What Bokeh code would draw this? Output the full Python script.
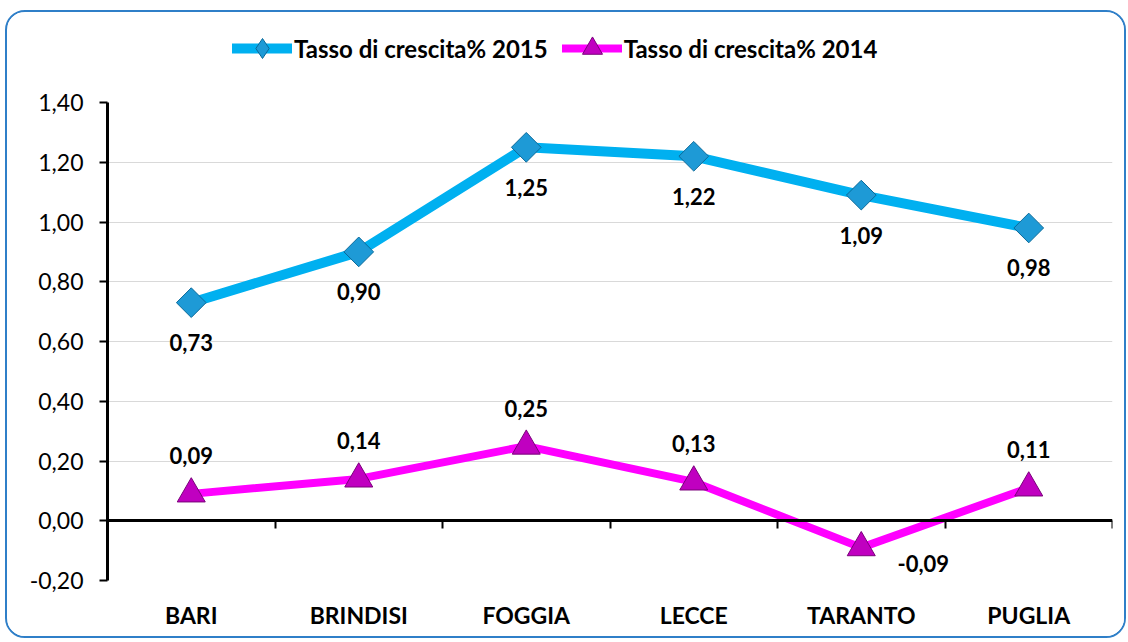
import math
from bokeh.plotting import figure
from bokeh.models import (Range1d, LinearAxis, FixedTicker, Legend, LegendItem,
                          CustomJSTickFormatter)
from bokeh.layouts import column
from bokeh.core.properties import value
from bokeh.embed import file_html
from bokeh.resources import INLINE

# ---- data ----
categories = ["BARI", "BRINDISI", "FOGGIA", "LECCE", "TARANTO", "PUGLIA"]
rate_2015 = [0.73, 0.90, 1.25, 1.22, 1.09, 0.98]
rate_2014 = [0.09, 0.14, 0.25, 0.13, -0.09, 0.11]
series_names = ["Tasso di crescita% 2015", "Tasso di crescita% 2014"]
y_ticks = [-0.2, 0.0, 0.2, 0.4, 0.6, 0.8, 1.0, 1.2, 1.4]

# ---- label styling (offsets in px) ----
off15_x = [0, 0, 0, 0, 0, 0]
off15_y = [40, 40, 40, 40, 40, 40]
off14_x = [0, 0, 0, 0, 62, 0]
off14_y = [-38, -38, -38, -38, 16, -38]

FONT = "Lato"
C15_LINE, C15_MARK, C15_EDGE = "#00B0F0", "#1E9AD6", "#0B6A9A"
C14_LINE, C14_MARK, C14_EDGE = "#FF00FF", "#C000C0", "#7A007A"
x = [i + 0.5 for i in range(len(categories))]
fmt = lambda v: f"{v:.2f}".replace(".", ",")

W = 1117


def draw_series(fig, legend_style=False):
    r = {}
    r["l15"] = fig.line(x, rate_2015, line_width=10, color=C15_LINE,
                        line_cap="round", line_join="round")
    if legend_style:
        r["s15"] = fig.scatter(x, rate_2015, marker="diamond", size=22,
                               fill_color=C15_MARK, line_color=C15_EDGE, line_width=1)
    else:
        r["s15"] = fig.scatter(x, rate_2015, marker="square", angle=math.pi / 4, size=21,
                               fill_color=C15_MARK, line_color=C15_EDGE, line_width=1)
    r["l14"] = fig.line(x, rate_2014, line_width=8, color=C14_LINE,
                        line_cap="round", line_join="round")
    r["s14"] = fig.scatter(x, rate_2014, marker="triangle", size=28,
                           fill_color=C14_MARK, line_color=C14_EDGE, line_width=1)
    return r


# ---------------- main chart ----------------
p = figure(width=W, height=554, x_range=Range1d(0, len(categories)),
           y_range=Range1d(-0.2, 1.4), x_axis_type=None,
           output_backend="svg", toolbar_location=None,
           min_border_left=100, min_border_right=12, min_border_top=20,
           min_border_bottom=56)
p.outline_line_color = None
p.background_fill_color = "white"
p.border_fill_color = "white"

p.yaxis.ticker = FixedTicker(ticks=y_ticks)
p.yaxis.formatter = CustomJSTickFormatter(code="return tick.toFixed(2).replace('.', ',');")
p.yaxis.axis_line_width = 3
p.yaxis.axis_line_color = "black"
p.yaxis.major_tick_in = 0
p.yaxis.major_tick_out = 8
p.yaxis.major_tick_line_width = 2
p.yaxis.minor_tick_line_color = None
p.yaxis.major_label_standoff = 16
p.yaxis.major_label_text_font = FONT
p.yaxis.major_label_text_font_size = "23px"
p.yaxis.major_label_text_color = "black"

p.ygrid.ticker = FixedTicker(ticks=y_ticks)
p.ygrid.grid_line_color = "#D9D9D9"
p.xgrid.visible = False

ax0 = LinearAxis(fixed_location=0,
                 ticker=FixedTicker(ticks=list(range(len(categories) + 1))),
                 formatter=CustomJSTickFormatter(code="return '';"),
                 major_tick_in=0, major_tick_out=8, major_tick_line_width=2,
                 minor_tick_line_color=None, axis_line_width=3,
                 major_label_standoff=0)
p.add_layout(ax0, "below")

ax1 = LinearAxis(ticker=FixedTicker(ticks=x),
                 formatter=CustomJSTickFormatter(args=dict(cats=categories),
                                                 code="return cats[Math.floor(tick)];"),
                 axis_line_color=None, major_tick_line_color=None,
                 minor_tick_line_color=None, major_label_standoff=14,
                 major_label_text_font=FONT, major_label_text_font_style="bold",
                 major_label_text_font_size="23px", major_label_text_color="black")
p.add_layout(ax1, "below")

draw_series(p)

p.text(x=x, y=rate_2015, text=[fmt(v) for v in rate_2015],
       x_offset=off15_x, y_offset=off15_y, text_align="center", text_baseline="middle",
       text_font=value(FONT), text_font_style="bold", text_font_size="22px", text_color="black")
p.text(x=x, y=rate_2014, text=[fmt(v) for v in rate_2014],
       x_offset=off14_x, y_offset=off14_y, text_align="center", text_baseline="middle",
       text_font=value(FONT), text_font_style="bold", text_font_size="22px", text_color="black")

# ---------------- legend strip (series drawn out of view, legend only) ----------------
lg = figure(width=W, height=70, x_range=Range1d(-20, -10), y_range=Range1d(-20, -10),
            x_axis_type=None, y_axis_type=None, output_backend="svg",
            toolbar_location=None, min_border=0)
lg.outline_line_color = None
lg.xgrid.visible = False
lg.ygrid.visible = False
rl = draw_series(lg, legend_style=True)
legend = Legend(items=[LegendItem(label=series_names[0], renderers=[rl["l15"], rl["s15"]]),
                       LegendItem(label=series_names[1], renderers=[rl["l14"], rl["s14"]])],
                orientation="horizontal", location=(125, 9),
                padding=0, margin=0, spacing=14, label_standoff=2,
                glyph_width=60, glyph_height=50,
                background_fill_alpha=0, border_line_color=None,
                label_text_font=FONT, label_text_font_style="bold",
                label_text_font_size="24px", label_text_color="black")
lg.add_layout(legend)

page = column(lg, p, spacing=0,
              styles={"border": "2px solid #2F7FC8", "border-radius": "20px",
                      "overflow": "hidden", "margin-top": "10px", "margin-left": "5px"})

open("out.html", "w").write(file_html(page, INLINE))
